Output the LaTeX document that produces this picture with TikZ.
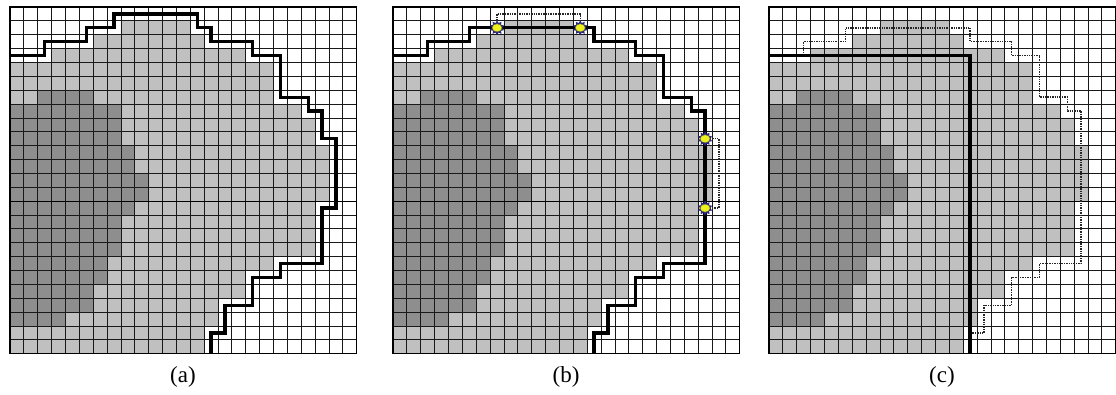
\documentclass[tikz,border=0pt]{standalone}
\usepackage{fontspec}
\setmainfont{Liberation Serif}
\usetikzlibrary{shapes.geometric}
\definecolor{lightg}{RGB}{192,192,192}
\definecolor{darkg}{RGB}{142,142,142}
\definecolor{mkblue}{RGB}{40,40,120}
\definecolor{mkyellow}{RGB}{235,240,30}
\tikzset{
  cellsc/.style={x=13.87pt,y=-13.87pt},
  lightreg/.style={fill=lightg},
  darkreg/.style={fill=darkg},
  gridln/.style={draw=black!90,line width=0.85pt},
  majorln/.style={draw=black,line width=1.2pt},
  contour/.style={draw=black,line width=3.3pt,line join=miter},
  oldpath/.style={draw=black!85,line width=1.4pt,densely dotted},
  lbl/.style={font=\fontsize{23}{26}\selectfont,inner sep=0pt},
  burst/.style={star,star points=10,star point ratio=1.5,minimum size=15pt,fill=mkblue,inner sep=0pt},
  blob/.style={ellipse,fill=mkyellow,draw=black!70!yellow,line width=0.4pt,minimum width=10pt,minimum height=8pt,inner sep=0pt}
}
\newcommand\panelshading{%
  \fill[lightreg] (0,4) -- (3,4) -- (3,3) -- (6,3) -- (6,2) -- (8,2) -- (8,1) -- (13,1) -- (13,2) -- (14,2) -- (14,3) -- (17,3) -- (17,4) -- (19,4) -- (19,7) -- (21,7) -- (21,8) -- (22,8) -- (22,10) -- (23,10) -- (23,14) -- (22,14) -- (22,18) -- (19,18) -- (19,19) -- (17,19) -- (17,21) -- (15,21) -- (15,23) -- (14,23) -- (14,25) -- (0,25) -- cycle;
  \fill[darkreg] (2,6) -- (6,6) -- (6,7) -- (8,7) -- (8,10) -- (9,10) -- (9,12) -- (10,12) -- (10,14) -- (9,14) -- (9,15) -- (8,15) -- (8,18) -- (7,18) -- (7,20) -- (6,20) -- (6,22) -- (4,22) -- (4,23) -- (0,23) -- (0,7) -- (2,7) -- cycle;
  \foreach \i in {0,...,25} {
    \draw[gridln] (\i,0) -- (\i,25);
    \draw[gridln] (0,\i) -- (25,\i);
  }
  \draw[majorln] (0,14) -- (25,14);
  \draw[majorln] (0,0) rectangle (25,25);
}
\begin{document}
\begin{tikzpicture}[x=1pt,y=-1pt]
\useasboundingbox (0,0) rectangle (1116,394);
\fill[white] (0,0) rectangle (1116,394);

% ---------- panel (a)
\begin{scope}[shift={(10,7)},cellsc]
  \panelshading
  \draw[contour] (0,3.5) -- (2.5,3.5) -- (2.5,2.5) -- (5.5,2.5) -- (5.5,1.5) -- (7.5,1.5) -- (7.5,0.5) -- (13.5,0.5) -- (13.5,1.5) -- (14.5,1.5) -- (14.5,2.5) -- (17.5,2.5) -- (17.5,3.5) -- (19.5,3.5) -- (19.5,6.5) -- (21.5,6.5) -- (21.5,7.5) -- (22.5,7.5) -- (22.5,9.5) -- (23.5,9.5) -- (23.5,14.5) -- (22.5,14.5) -- (22.5,18.5) -- (19.5,18.5) -- (19.5,19.5) -- (17.5,19.5) -- (17.5,21.5) -- (15.5,21.5) -- (15.5,23.5) -- (14.5,23.5) -- (14.5,25);
\end{scope}

% ---------- panel (b)
\begin{scope}[shift={(393,7)},cellsc]
  \panelshading
  \draw[oldpath] (7.5,1.5) -- (7.5,0.5) -- (13.5,0.5) -- (13.5,1.5);
  \draw[oldpath] (22.5,9.5) -- (23.5,9.5) -- (23.5,14.5) -- (22.5,14.5);
  \draw[contour] (0,3.5) -- (2.5,3.5) -- (2.5,2.5) -- (5.5,2.5) -- (5.5,1.5) -- (13.5,1.5) -- (14.5,1.5) -- (14.5,2.5) -- (17.5,2.5) -- (17.5,3.5) -- (19.5,3.5) -- (19.5,6.5) -- (21.5,6.5) -- (21.5,7.5) -- (22.5,7.5) -- (22.5,18.5) -- (19.5,18.5) -- (19.5,19.5) -- (17.5,19.5) -- (17.5,21.5) -- (15.5,21.5) -- (15.5,23.5) -- (14.5,23.5) -- (14.5,25);
  \foreach \p/\n in {{(7.5,1.5)}/m1,{(13.5,1.5)}/m2,{(22.5,9.5)}/m3,{(22.5,14.5)}/m4} {
    \node[burst] (\n s) at \p {};
    \node[blob] (\n) at \p {};
  }
\end{scope}

% ---------- panel (c)
\begin{scope}[shift={(769,7)},cellsc]
  \panelshading
  \draw[oldpath] (2.5,3.5) -- (2.5,2.5) -- (5.5,2.5) -- (5.5,1.5) -- (14.5,1.5) -- (14.5,2.5) -- (17.5,2.5) -- (17.5,3.5) -- (19.5,3.5) -- (19.5,6.5) -- (21.5,6.5) -- (21.5,7.5) -- (22.5,7.5) -- (22.5,18.5) -- (19.5,18.5) -- (19.5,19.5) -- (17.5,19.5) -- (17.5,21.5) -- (15.5,21.5) -- (15.5,23.5) -- (14.5,23.5);
  \draw[contour] (0,3.5) -- (14.5,3.5) -- (14.5,25);
\end{scope}

\node[lbl] (la) at (183,377) {(a)};
\node[lbl] (lb) at (566,377) {(b)};
\node[lbl] (lc) at (942,377) {(c)};
\end{tikzpicture}
\end{document}
